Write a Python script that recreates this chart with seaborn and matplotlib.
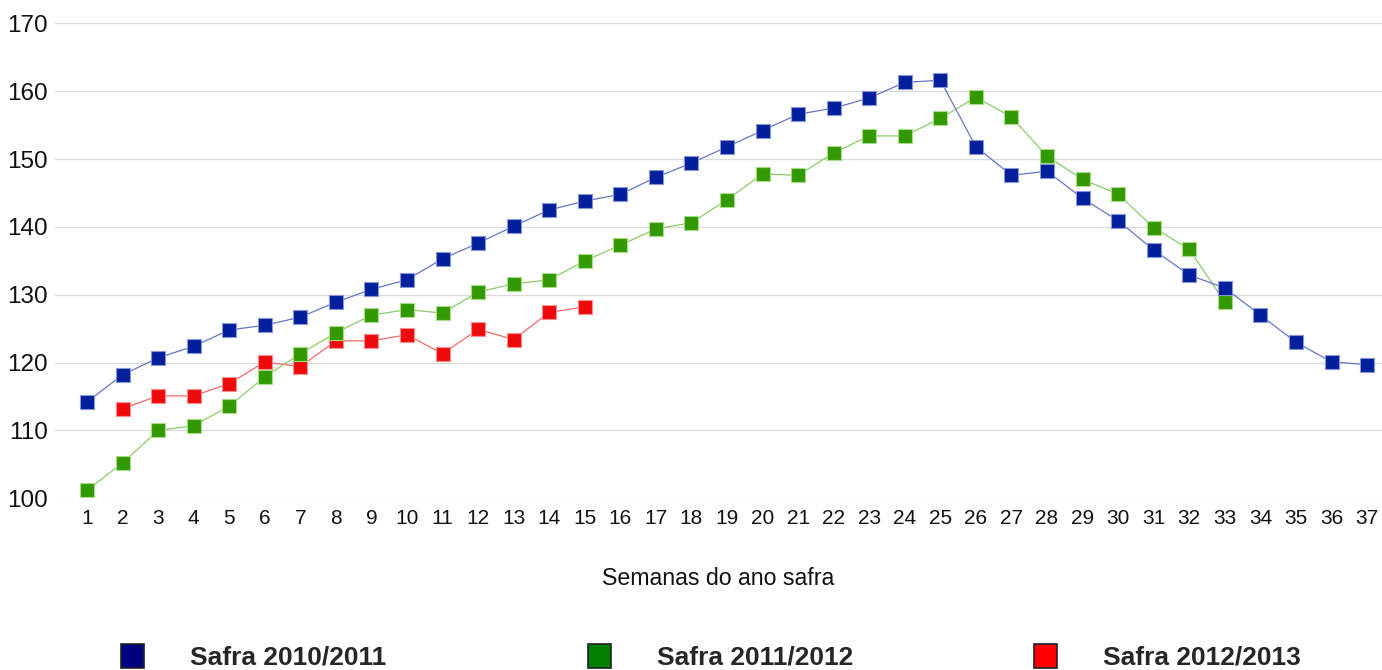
import matplotlib
matplotlib.use("Agg")
import matplotlib.pyplot as plt
from matplotlib.patches import Patch
import seaborn as sns
import pandas as pd

weeks_a = list(range(1, 38))
safra_2010_2011 = [114.2, 118.2, 120.7, 122.4, 124.8, 125.5, 126.7, 128.9, 130.8, 132.2,
                   135.3, 137.6, 140.1, 142.5, 143.8, 144.8, 147.3, 149.4, 151.8, 154.2,
                   156.6, 157.5, 159.0, 161.3, 161.6, 151.8, 147.6, 148.2, 144.2, 140.9,
                   136.6, 132.9, 131.0, 127.0, 123.0, 120.1, 119.7]
weeks_b = list(range(1, 34))
safra_2011_2012 = [101.2, 105.2, 110.0, 110.7, 113.6, 117.9, 121.3, 124.4, 127.0, 127.8,
                   127.3, 130.4, 131.6, 132.2, 135.0, 137.3, 139.7, 140.6, 144.0, 147.8,
                   147.6, 150.9, 153.4, 153.4, 156.0, 159.1, 156.2, 150.4, 147.0, 144.8,
                   139.9, 136.7, 128.9]
weeks_c = list(range(2, 16))
safra_2012_2013 = [113.2, 115.1, 115.1, 116.9, 120.1, 119.4, 123.2, 123.2, 124.1, 121.3,
                   124.9, 123.4, 127.4, 128.2]

series_names = ["Safra 2010/2011", "Safra 2011/2012", "Safra 2012/2013"]
x_label = "Semanas do ano safra"
y_ticks = [100, 110, 120, 130, 140, 150, 160, 170]

df = pd.concat([
    pd.DataFrame({"semana": weeks_a, "valor": safra_2010_2011, "safra": series_names[0]}),
    pd.DataFrame({"semana": weeks_b, "valor": safra_2011_2012, "safra": series_names[1]}),
    pd.DataFrame({"semana": weeks_c, "valor": safra_2012_2013, "safra": series_names[2]}),
], ignore_index=True)

sns.set_theme(style="white")
plt.rcParams["font.family"] = ["Liberation Sans", "DejaVu Sans"]

marker_colors = {series_names[0]: "#001f9c", series_names[1]: "#339900", series_names[2]: "#ee0a0a"}
line_colors = {series_names[0]: "#6676c8", series_names[1]: "#8ccc6a", series_names[2]: "#f56a6a"}
edge_colors = {series_names[0]: "#8895d8", series_names[1]: "#a6dd88", series_names[2]: "#f79090"}
legend_colors = {series_names[0]: "#000080", series_names[1]: "#008000", series_names[2]: "#ff0000"}

fig = plt.figure(figsize=(13.82, 6.70), dpi=100)
ax = fig.add_axes([55 / 1382, 1 - 498.3 / 670, 1 - 55 / 1382, (498.3 - 23.3) / 670])

draw_order = [series_names[2], series_names[1], series_names[0]]
for z, name in enumerate(draw_order):
    sub = df[df["safra"] == name]
    sns.lineplot(data=sub, x="semana", y="valor", color=line_colors[name], linewidth=0.9,
                 ax=ax, zorder=3 + 2 * z, legend=False)
    sns.scatterplot(data=sub, x="semana", y="valor", color=marker_colors[name], marker="s",
                    s=95, edgecolor=edge_colors[name], linewidth=0.8, ax=ax,
                    zorder=4 + 2 * z, legend=False)

ax.set_xlim(0.1, 37.42)
ax.set_ylim(100, 170)
ax.set_yticks(y_ticks)
ax.set_xticks(weeks_a)
ax.set_xticklabels([str(w) for w in weeks_a])
ax.grid(axis="y", color="#dcdcdc", linewidth=1.0)
ax.grid(axis="x", visible=False)
ax.set_axisbelow(True)
for sp in ax.spines.values():
    sp.set_visible(False)
ax.tick_params(axis="y", labelsize=17.5, length=0, pad=5, labelcolor="#111111")
ax.tick_params(axis="x", labelsize=15, length=0, pad=8, labelcolor="#111111")
ax.set_ylabel("")
ax.set_xlabel(x_label, fontsize=16.7, labelpad=28, color="#111111")

legend_x = [121 / 1382, 588 / 1382, 1034 / 1382]
for xpos, name in zip(legend_x, series_names):
    h = Patch(facecolor=legend_colors[name], edgecolor="#222222", linewidth=1.2)
    leg = fig.legend(handles=[h], labels=[name], loc="center left",
                     bbox_to_anchor=(xpos, 1 - 657 / 670), frameon=False,
                     handlelength=0.88, handleheight=1.0, handletextpad=1.75,
                     borderpad=0, borderaxespad=0,
                     prop={"size": 19, "weight": "bold"})

fig.savefig("out.png", dpi=100)
